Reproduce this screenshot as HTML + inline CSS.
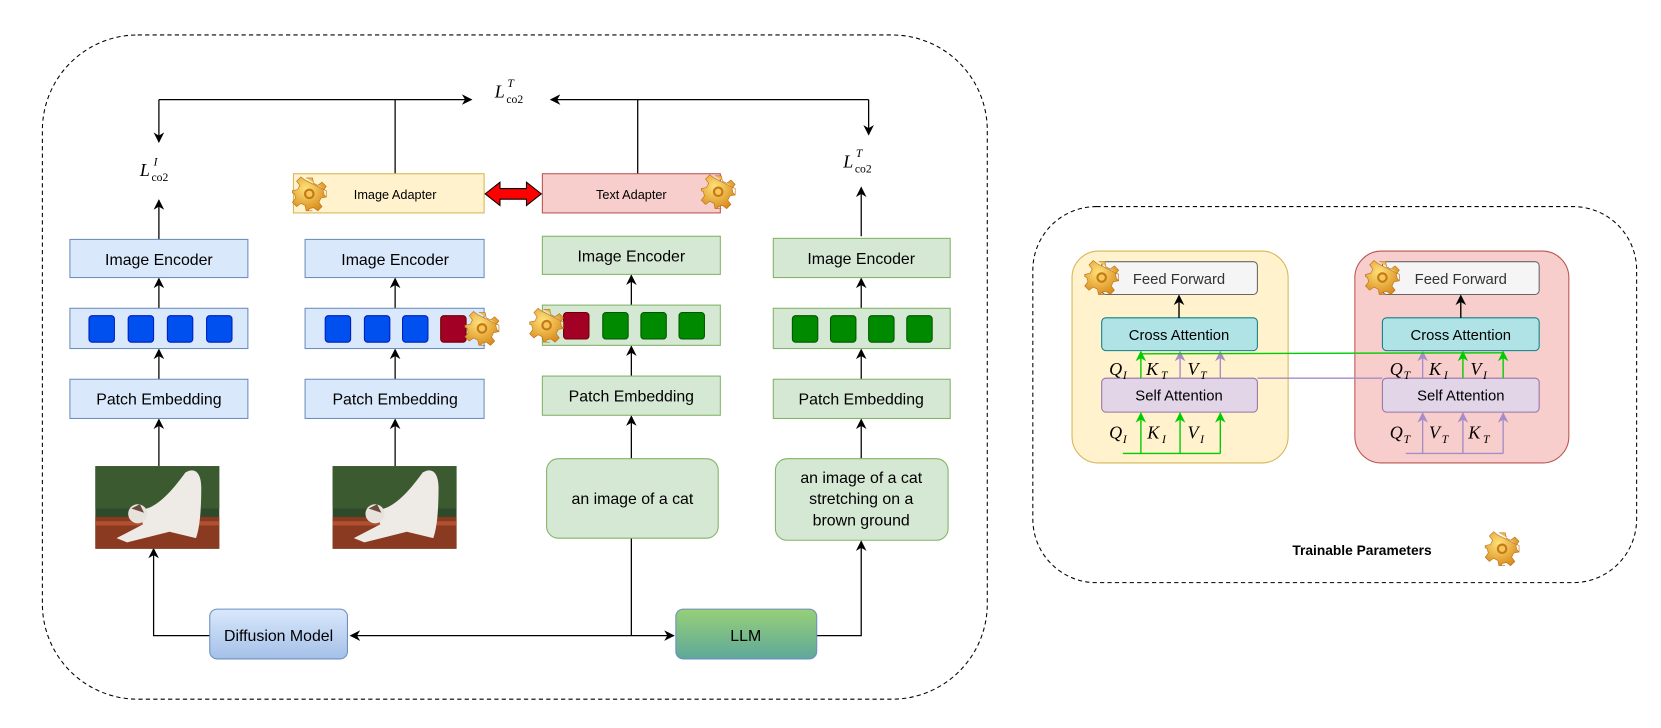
<!DOCTYPE html>
<html><head><meta charset="utf-8"><style>
html,body{margin:0;padding:0;background:#fff;}
svg{display:block;font-family:"Liberation Sans",sans-serif;}
.m{font-family:"Liberation Serif",serif;font-style:italic;}
</style></head><body>
<svg width="1661" height="728" viewBox="0 0 1568 687.2" preserveAspectRatio="none" xmlns="http://www.w3.org/2000/svg">
<defs>
<marker id="a" markerWidth="10" markerHeight="10" refX="9" refY="5" orient="auto" markerUnits="userSpaceOnUse"><path d="M0,0 L10,5 L0,10 L3,5 z" fill="#000"/></marker>
<marker id="ag" markerWidth="10" markerHeight="10" refX="9" refY="5" orient="auto" markerUnits="userSpaceOnUse"><path d="M0,0 L10,5 L0,10 L3,5 z" fill="#00cc00"/></marker>
<marker id="ap" markerWidth="10" markerHeight="10" refX="9" refY="5" orient="auto" markerUnits="userSpaceOnUse"><path d="M0,0 L10,5 L0,10 L3,5 z" fill="#a68cc8"/></marker>
<linearGradient id="gb" x1="0" y1="0" x2="0" y2="1"><stop offset="0" stop-color="#dae8fc"/><stop offset="1" stop-color="#a4c0e8"/></linearGradient>
<linearGradient id="gg" x1="0" y1="0" x2="0" y2="1"><stop offset="0" stop-color="#97d077"/><stop offset="1" stop-color="#5ea89a"/></linearGradient>
<radialGradient id="gear" cx="0.4" cy="0.35" r="0.7"><stop offset="0" stop-color="#ffe27a"/><stop offset="1" stop-color="#d98a1a"/></radialGradient>
<g id="G"><path d="M-3,-15 L3,-15 L4,-10 L8,-8 L12,-11 L16,-7 L13,-3 L14,1 L16,3 L16,-3 M16,-3 L16,3 L11,4 L9,8 L12,12 L8,16 L4,13 L0,14 L-1,16 L3,16 L-3,16 L-4,11 L-8,9 L-12,12 L-16,8 L-13,4 L-14,0 L-16,-1 L-16,-3 L-11,-4 L-9,-8 L-12,-12 L-8,-16 L-4,-13 Z" fill="url(#gear)" stroke="#b8731a" stroke-width="0.6"/><circle r="5" fill="#c47a14"/><circle r="3" fill="#f6c65a"/></g>
<g id="cat"><rect width="117" height="78" fill="#2f4a2a"/><rect y="0" width="117" height="40" fill="#3c5a30"/><rect y="48" width="117" height="30" fill="#8a3a20"/><rect y="52" width="117" height="4" fill="#b05030"/><path d="M40,40 C55,45 75,20 85,6 C95,0 100,8 100,20 C100,45 98,60 95,68 L70,62 L30,72 L20,68 L45,55 Z" fill="#eeeae6"/><circle cx="40" cy="45" r="9" fill="#e8e2dc"/><path d="M34,40 L42,36 L46,44 Z" fill="#6a4a3a"/></g>
</defs>

<rect x="40" y="33" width="892" height="627" rx="90" fill="none" stroke="#000" stroke-dasharray="4,3"/>
<rect x="975" y="195" width="570" height="355" rx="60" fill="none" stroke="#000" stroke-dasharray="4,3"/>

<g stroke="#000" stroke-width="1.2" fill="none">
<path d="M150,94 L445,94" marker-end="url(#a)"/>
<path d="M150,94 L150,134" marker-end="url(#a)"/>
<path d="M820,94 L520,94" marker-end="url(#a)"/>
<path d="M820,94 L820,127" marker-end="url(#a)"/>
<path d="M373,94 L373,164"/>
<path d="M602,94 L602,164"/>
<path d="M150,226 L150,189" marker-end="url(#a)"/>
<path d="M813,223 L813,177" marker-end="url(#a)"/>
<path d="M150,291 L150,263" marker-end="url(#a)"/>
<path d="M150,358 L150,330" marker-end="url(#a)"/>
<path d="M150,440 L150,396" marker-end="url(#a)"/>
<path d="M373,291 L373,263" marker-end="url(#a)"/>
<path d="M373,358 L373,330" marker-end="url(#a)"/>
<path d="M373,440 L373,396" marker-end="url(#a)"/>
<path d="M596,288 L596,260" marker-end="url(#a)"/>
<path d="M596,355 L596,327" marker-end="url(#a)"/>
<path d="M596,433 L596,393" marker-end="url(#a)"/>
<path d="M813,291 L813,263" marker-end="url(#a)"/>
<path d="M813,358 L813,330" marker-end="url(#a)"/>
<path d="M813,433 L813,396" marker-end="url(#a)"/>
<path d="M198,600 L145,600 L145,518" marker-end="url(#a)"/>
<path d="M596,508 L596,600"/>
<path d="M596,600 L331,600" marker-end="url(#a)"/>
<path d="M596,600 L636,600" marker-end="url(#a)"/>
<path d="M771,600 L813,600 L813,511" marker-end="url(#a)"/>
</g>

<text x="467" y="92" class="m" font-size="17">L</text><text x="478" y="97" font-family="Liberation Serif" font-size="11">co2</text><text x="479" y="82" class="m" font-size="11">T</text>
<text x="132" y="166" class="m" font-size="17">L</text><text x="143" y="171" font-family="Liberation Serif" font-size="11">co2</text><text x="145" y="156" class="m" font-size="11">I</text>
<text x="796" y="158" class="m" font-size="17">L</text><text x="807" y="163" font-family="Liberation Serif" font-size="11">co2</text><text x="808" y="148" class="m" font-size="11">T</text>

<rect x="277" y="164" width="180" height="37" fill="#fff2cc" stroke="#d6b656"/>
<text x="373" y="188" font-size="12" text-anchor="middle">Image Adapter</text>
<rect x="512" y="164" width="168" height="37" fill="#f8cecc" stroke="#b85450"/>
<text x="596" y="188" font-size="12" text-anchor="middle">Text Adapter</text>
<path d="M458,183 L472,172 L472,178 L497,178 L497,172 L511,183 L497,194 L497,188 L472,188 L472,194 Z" fill="#ff0000" stroke="#000" stroke-width="1"/>
<use href="#G" x="292" y="183"/>
<use href="#G" x="678" y="181"/>

<rect x="66" y="226" width="168" height="36" fill="#dae8fc" stroke="#6c8ebf"/>
<text x="150" y="250" font-size="15" text-anchor="middle">Image Encoder</text>
<rect x="66" y="291" width="168" height="38" fill="#dae8fc" stroke="#6c8ebf"/>
<g fill="#0050ef" stroke="#001dbc"><rect x="84" y="298" width="24" height="25" rx="3"/><rect x="121" y="298" width="24" height="25" rx="3"/><rect x="158" y="298" width="24" height="25" rx="3"/><rect x="195" y="298" width="24" height="25" rx="3"/></g>
<rect x="66" y="358" width="168" height="37" fill="#dae8fc" stroke="#6c8ebf"/>
<text x="150" y="382" font-size="15" text-anchor="middle">Patch Embedding</text>
<use href="#cat" x="90" y="440"/>

<rect x="288" y="226" width="169" height="36" fill="#dae8fc" stroke="#6c8ebf"/>
<text x="373" y="250" font-size="15" text-anchor="middle">Image Encoder</text>
<rect x="288" y="291" width="169" height="38" fill="#dae8fc" stroke="#6c8ebf"/>
<g fill="#0050ef" stroke="#001dbc"><rect x="307" y="298" width="24" height="25" rx="3"/><rect x="344" y="298" width="24" height="25" rx="3"/><rect x="380" y="298" width="24" height="25" rx="3"/></g>
<rect x="416" y="298" width="24" height="25" rx="3" fill="#a20025" stroke="#6f0000"/>
<use href="#G" x="455" y="310"/>
<rect x="288" y="358" width="169" height="37" fill="#dae8fc" stroke="#6c8ebf"/>
<text x="373" y="382" font-size="15" text-anchor="middle">Patch Embedding</text>
<use href="#cat" x="314" y="440"/>

<rect x="512" y="223" width="168" height="36" fill="#d5e8d4" stroke="#82b366"/>
<text x="596" y="247" font-size="15" text-anchor="middle">Image Encoder</text>
<rect x="512" y="288" width="168" height="38" fill="#d5e8d4" stroke="#82b366"/>
<rect x="532" y="295" width="24" height="25" rx="3" fill="#a20025" stroke="#6f0000"/>
<g fill="#008a00" stroke="#005700"><rect x="569" y="295" width="24" height="25" rx="3"/><rect x="605" y="295" width="24" height="25" rx="3"/><rect x="641" y="295" width="24" height="25" rx="3"/></g>
<use href="#G" x="516" y="307"/>
<rect x="512" y="355" width="168" height="37" fill="#d5e8d4" stroke="#82b366"/>
<text x="596" y="379" font-size="15" text-anchor="middle">Patch Embedding</text>
<rect x="516" y="433" width="162" height="75" rx="11" fill="#d5e8d4" stroke="#82b366"/>
<text x="597" y="476" font-size="15" text-anchor="middle">an image of a cat</text>

<rect x="730" y="225" width="167" height="37" fill="#d5e8d4" stroke="#82b366"/>
<text x="813" y="249" font-size="15" text-anchor="middle">Image Encoder</text>
<rect x="730" y="291" width="167" height="38" fill="#d5e8d4" stroke="#82b366"/>
<g fill="#008a00" stroke="#005700"><rect x="748" y="298" width="24" height="25" rx="3"/><rect x="784" y="298" width="24" height="25" rx="3"/><rect x="820" y="298" width="24" height="25" rx="3"/><rect x="856" y="298" width="24" height="25" rx="3"/></g>
<rect x="730" y="358" width="167" height="37" fill="#d5e8d4" stroke="#82b366"/>
<text x="813" y="382" font-size="15" text-anchor="middle">Patch Embedding</text>
<rect x="732" y="433" width="163" height="77" rx="11" fill="#d5e8d4" stroke="#82b366"/>
<text x="813" y="456" font-size="15" text-anchor="middle">an image of a cat</text>
<text x="813" y="476" font-size="15" text-anchor="middle">stretching on a</text>
<text x="813" y="496" font-size="15" text-anchor="middle">brown ground</text>

<rect x="198" y="575" width="130" height="47" rx="7" fill="url(#gb)" stroke="#6c8ebf"/>
<text x="263" y="605" font-size="15" text-anchor="middle">Diffusion Model</text>
<rect x="638" y="575" width="133" height="47" rx="7" fill="url(#gg)" stroke="#6c8ebf"/>
<text x="704" y="605" font-size="15" text-anchor="middle">LLM</text>

<rect x="1012" y="237" width="204" height="200" rx="25" fill="#fff2cc" stroke="#d6b656"/>
<rect x="1279" y="237" width="202" height="200" rx="25" fill="#f8cecc" stroke="#b85450"/>

<g font-size="14" text-anchor="middle">
<rect x="1040" y="247" width="147" height="31" rx="4" fill="#f5f5f5" stroke="#666"/>
<text x="1113" y="268" fill="#333">Feed Forward</text>
<rect x="1040" y="300" width="147" height="31" rx="4" fill="#b0e3e6" stroke="#0e8088"/>
<text x="1113" y="321">Cross Attention</text>
<rect x="1040" y="357" width="147" height="32" rx="4" fill="#e1d5e7" stroke="#9673a6"/>
<text x="1113" y="378">Self Attention</text>
<rect x="1305" y="247" width="148" height="31" rx="4" fill="#f5f5f5" stroke="#666"/>
<text x="1379" y="268" fill="#333">Feed Forward</text>
<rect x="1305" y="300" width="148" height="31" rx="4" fill="#b0e3e6" stroke="#0e8088"/>
<text x="1379" y="321">Cross Attention</text>
<rect x="1305" y="357" width="148" height="32" rx="4" fill="#e1d5e7" stroke="#9673a6"/>
<text x="1379" y="378">Self Attention</text>
</g>
<use href="#G" x="1040" y="262"/>
<use href="#G" x="1305" y="262"/>

<g stroke-width="1.3" fill="none">
<path d="M1113,300 L1113,279" stroke="#000" marker-end="url(#a)"/>
<path d="M1379,300 L1379,279" stroke="#000" marker-end="url(#a)"/>
<path d="M1077,357 L1077,332" stroke="#00cc00" marker-end="url(#ag)"/>
<path d="M1114,357 L1114,332" stroke="#a68cc8" marker-end="url(#ap)"/>
<path d="M1152,357 L1152,332" stroke="#a68cc8" marker-end="url(#ap)"/>
<path d="M1343,357 L1343,332" stroke="#a68cc8" marker-end="url(#ap)"/>
<path d="M1381,357 L1381,332" stroke="#00cc00" marker-end="url(#ag)"/>
<path d="M1419,357 L1419,332" stroke="#00cc00" marker-end="url(#ag)"/>
<path d="M1077,334 L1419,333" stroke="#00cc00"/>
<path d="M1187,357 L1305,357" stroke="#a68cc8"/>
<path d="M1060,428 L1152,428" stroke="#00cc00"/>
<path d="M1077,428 L1077,390" stroke="#00cc00" marker-end="url(#ag)"/>
<path d="M1114,428 L1114,390" stroke="#00cc00" marker-end="url(#ag)"/>
<path d="M1152,428 L1152,390" stroke="#00cc00" marker-end="url(#ag)"/>
<path d="M1327,428 L1419,428" stroke="#a68cc8"/>
<path d="M1343,428 L1343,390" stroke="#a68cc8" marker-end="url(#ap)"/>
<path d="M1381,428 L1381,390" stroke="#a68cc8" marker-end="url(#ap)"/>
<path d="M1419,428 L1419,390" stroke="#a68cc8" marker-end="url(#ap)"/>
</g>

<g class="m" font-size="17">
<text x="1047" y="354">Q</text><text x="1060" y="358" font-size="11">I</text>
<text x="1082" y="354">K</text><text x="1096" y="358" font-size="11">T</text>
<text x="1121" y="354">V</text><text x="1133" y="358" font-size="11">T</text>
<text x="1047" y="414">Q</text><text x="1060" y="418" font-size="11">I</text>
<text x="1083" y="414">K</text><text x="1097" y="418" font-size="11">I</text>
<text x="1121" y="414">V</text><text x="1133" y="418" font-size="11">I</text>
<text x="1312" y="354">Q</text><text x="1325" y="358" font-size="11">T</text>
<text x="1349" y="354">K</text><text x="1363" y="358" font-size="11">I</text>
<text x="1388" y="354">V</text><text x="1400" y="358" font-size="11">I</text>
<text x="1312" y="414">Q</text><text x="1325" y="418" font-size="11">T</text>
<text x="1349" y="414">V</text><text x="1361" y="418" font-size="11">T</text>
<text x="1386" y="414">K</text><text x="1400" y="418" font-size="11">T</text>
</g>

<text x="1220" y="524" font-size="13" font-weight="bold">Trainable Parameters</text>
<use href="#G" x="1418" y="518"/>
</svg>
</body></html>
